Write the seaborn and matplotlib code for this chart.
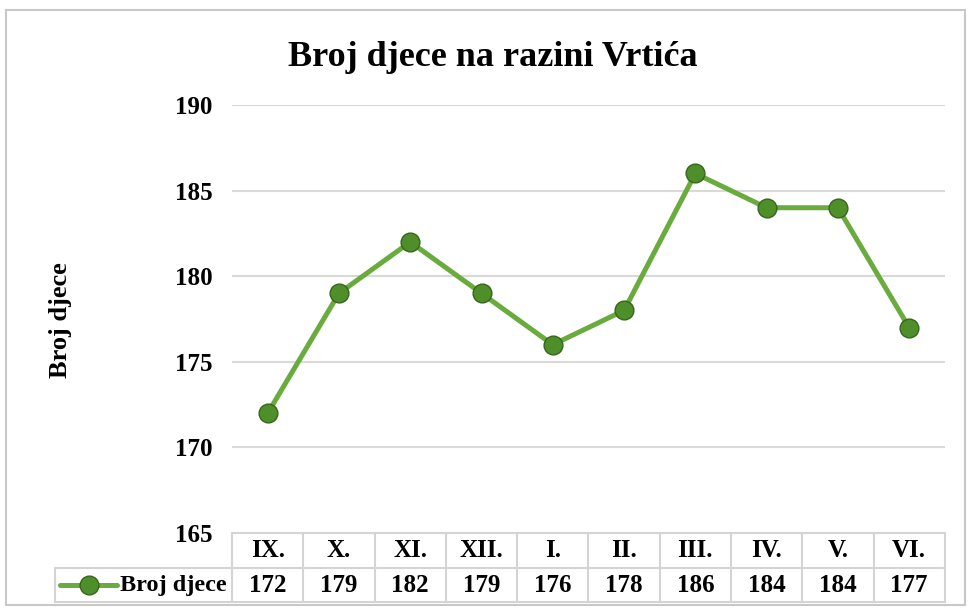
"""Broj djece na razini Vrtića - linijski graf s tablicom podataka."""

import matplotlib.pyplot as plt
import matplotlib.transforms as mtransforms
import pandas as pd
import seaborn as sns
from matplotlib.lines import Line2D
from matplotlib.patches import Rectangle

# podaci
mjeseci = ["IX.", "X.", "XI.", "XII.", "I.", "II.", "III.", "IV.", "V.", "VI."]
broj_djece = [172, 179, 182, 179, 176, 178, 186, 184, 184, 177]
y_ticks = [165, 170, 175, 180, 185, 190]
naziv_serije = "Broj djece"

LINE_GREEN = "#6aab3e"
MARKER_GREEN = "#4f8f2a"
MARKER_EDGE = "#36651b"
GRID_GRAY = "#d9d9d9"
TABLE_GRAY = "#d4d4d4"

sns.set_style("white")
plt.rcParams["font.family"] = ["Liberation Serif", "DejaVu Serif"]
plt.rcParams["font.weight"] = "bold"
plt.rcParams["text.color"] = "black"
plt.rcParams["ytick.color"] = "black"

fig = plt.figure(figsize=(9.71, 6.13), dpi=100)
ax = fig.add_axes([0.239, 0.1305, 0.734, 0.6982])

df = pd.DataFrame({"idx": range(len(mjeseci)), "vrijednost": broj_djece})
sns.lineplot(
    data=df,
    x="idx",
    y="vrijednost",
    ax=ax,
    color=LINE_GREEN,
    linewidth=3.6,
    marker="o",
    markersize=13.5,
    markerfacecolor=MARKER_GREEN,
    markeredgecolor=MARKER_EDGE,
    markeredgewidth=1.0,
    zorder=3,
)

ax.set_xlim(-0.5, len(mjeseci) - 0.5)
ax.set_ylim(y_ticks[0], y_ticks[-1])
ax.set_yticks(y_ticks)
ax.set_yticklabels([str(t) for t in y_ticks], fontsize=18, fontweight="bold")
ax.set_xticks([])
ax.set_xlabel("")
ax.set_ylabel("")
ax.tick_params(axis="y", length=0, pad=14)
for spine in ax.spines.values():
    spine.set_visible(False)
for t in y_ticks[1:]:
    ax.axhline(t, color=GRID_GRAY, linewidth=1.5, zorder=1)

# tablica podataka ispod grafa
trans = mtransforms.blended_transform_factory(ax.transData, ax.transAxes)
r1 = -0.0818
r2 = -0.1612
leg_left = -0.248
line_kw = dict(color=TABLE_GRAY, linewidth=1.5, clip_on=False)

ax.add_line(Line2D([0, 1], [0, 0], transform=ax.transAxes, **line_kw))
ax.add_line(Line2D([leg_left, 1], [r1, r1], transform=ax.transAxes, **line_kw))
ax.add_line(Line2D([leg_left, 1], [r2, r2], transform=ax.transAxes, **line_kw))
ax.add_line(Line2D([leg_left, leg_left], [r1, r2], transform=ax.transAxes, **line_kw))
for i in range(len(mjeseci) + 1):
    ax.add_line(Line2D([i - 0.5, i - 0.5], [0, r2], transform=trans, **line_kw))

for i, (m, v) in enumerate(zip(mjeseci, broj_djece)):
    ax.text(i, r1 / 2, m, transform=trans, ha="center", va="center",
            fontsize=18, fontweight="bold")
    ax.text(i, (r1 + r2) / 2, str(v), transform=trans, ha="center", va="center",
            fontsize=18, fontweight="bold")

# legenda u tablici
ym = (r1 + r2) / 2
ax.add_line(Line2D([-0.241, -0.161], [ym, ym], transform=ax.transAxes,
                   color=LINE_GREEN, linewidth=3.6, clip_on=False))
ax.add_line(Line2D([-0.201], [ym], transform=ax.transAxes, marker="o",
                   markersize=13.5, markerfacecolor=MARKER_GREEN,
                   markeredgecolor=MARKER_EDGE, clip_on=False))
ax.text(-0.157, ym, naziv_serije, transform=ax.transAxes, ha="left", va="center",
        fontsize=17.5, fontweight="bold")

# naslov i oznaka osi
fig.text(0.508, 0.906, "Broj djece na razini Vrtića", ha="center", va="center",
         fontsize=26, fontweight="bold")
fig.text(0.062, 0.478, "Broj djece", ha="center", va="center", rotation=90,
         fontsize=19, fontweight="bold")

# okvir grafa
fig.patches.append(Rectangle((0.006, 0.013), 0.988, 0.97, transform=fig.transFigure,
                             fill=False, edgecolor="#c8c8c8", linewidth=1.5))

fig.savefig("out.png", dpi=100)
